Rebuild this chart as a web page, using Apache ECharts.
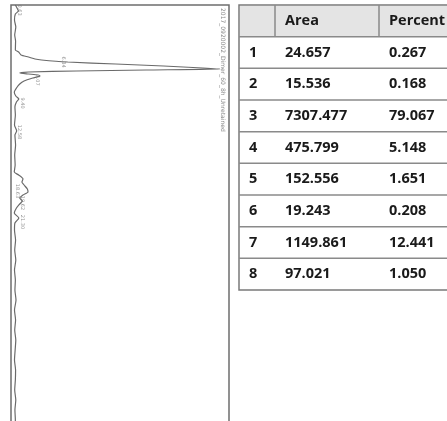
<!DOCTYPE html>
<html>
<head>
<meta charset="utf-8">
<script src="https://cdn.jsdelivr.net/npm/echarts@6/dist/echarts.min.js"></script>
<style>
  html, body { margin: 0; padding: 0; background: #fff; }
  #chart { width: 447px; height: 421px; }
</style>
</head>
<body>
<div id="chart"></div>
<script>
// chromatogram (drawn rotated: time runs down, signal runs right)
const traceTime = [0, 0.4, 0.6, 0.9, 1.5, 2.2, 3.0, 3.6, 4.5, 4.7, 5.0, 5.2, 5.4, 5.5, 5.7, 5.9, 6.1, 6.3, 6.4,
  6.5, 6.6, 6.7, 6.8, 6.9, 7.0, 7.1, 7.3, 7.6, 7.9, 8.3, 8.7, 9.1, 9.4, 9.7, 10.2, 11, 12, 12.6, 13.0, 14, 15, 16,
  16.7, 17.0, 17.4, 17.7, 18.0, 18.4, 18.7, 19.0, 19.3, 19.6, 19.9, 20.3, 20.8, 21.3, 21.8, 22.5, 23.5, 24.5, 25.5,
  26.5, 27.5, 28.5, 29.5, 30.5, 31.5, 32.5, 33.5, 34.5, 35.5, 36.5, 37.5, 38.5, 39.5, 40.5, 41.5, 42.5];
const traceSignal = [2.0, 3.0, 3.4, 2.0, 1.6, 2.2, 1.7, 2.1, 2.0, 3.5, 4.6, 8, 11, 14, 26, 48, 70, 88, 96,
  62, 30, 8, 4, 8, 12.5, 13.3, 10, 6, 4, 2.5, 1.5, 2.2, 3.6, 2.5, 1.8, 2.0, 1.6, 2.6, 1.8, 2.1, 1.7, 1.9,
  1.5, 3.5, 5.5, 5.0, 6.0, 7.5, 7.8, 5.5, 4.0, 5.2, 4.0, 2.5, 1.5, 3.6, 1.8, 1.6, 2.1, 1.7, 2.2, 1.6,
  2.0, 1.8, 2.3, 1.6, 2.1, 1.7, 2.2, 1.9, 1.6, 2.1, 2.0, 1.7, 2.2, 1.8, 2.0, 1.9];

// retention-time labels next to peaks
const labelTime = [0.5, 5.7, 7.5, 9.8, 12.7, 18.6, 19.8, 21.7];
const labelSignal = [4, 24, 12, 5, 4, 3, 5, 5];
const labelText = ['0.63', '6.34', '7.07', '9.40', '12.58', '18.63', '19.62', '21.30'];
const sampleName = '2017_0920002_Dimer_60_8h_Unretained';

// table
const headers = ['', 'Area', 'Percent'];
const peakNo = ['1', '2', '3', '4', '5', '6', '7', '8'];
const areas = ['24.657', '15.536', '7307.477', '475.799', '152.556', '19.243', '1149.861', '97.021'];
const percents = ['0.267', '0.168', '79.067', '5.148', '1.651', '0.208', '12.441', '1.050'];

const colEdges = [0, 36, 140];
const tableWidth = 240;

const chart = echarts.init(document.getElementById('chart'));

const trace = traceTime.map((t, i) => [traceSignal[i], t]);
const labels = labelTime.map((t, i) => [labelSignal[i], t, labelText[i]]);

const rows = [headers].concat(peakNo.map((p, i) => [p, areas[i], percents[i]]));
const cells = [];
rows.forEach((r, ri) => r.forEach((txt, ci) => cells.push([ci, ri, txt])));
const rowIdx = rows.map((r, i) => [0, i]);

const textFont = '"Open Sans", sans-serif';

chart.setOption({
  animation: false,
  grid: [
    { left: 11, top: 5, width: 218, height: 430, show: true, borderColor: '#6e6e6e', borderWidth: 1.5, outerBoundsMode: 'none' },
    { left: 239, top: 5, width: tableWidth, height: 285, show: true, borderColor: '#7a7a7a', borderWidth: 1.5, outerBoundsMode: 'none' }
  ],
  xAxis: [
    { gridIndex: 0, type: 'value', min: 0, max: 100, show: false },
    { gridIndex: 1, type: 'value', min: 0, max: tableWidth, show: false }
  ],
  yAxis: [
    { gridIndex: 0, type: 'value', min: 0, max: 43, inverse: true, show: false },
    { gridIndex: 1, type: 'category', data: rows.map((r, i) => i), inverse: true, show: false }
  ],
  graphic: [{
    type: 'text',
    x: 226, y: 8,
    rotation: -Math.PI / 2,
    style: { text: sampleName, fill: '#8a8a8a', font: '6px "DejaVu Sans", sans-serif' }
  }],
  series: [
    {
      type: 'line',
      xAxisIndex: 0, yAxisIndex: 0,
      data: trace,
      showSymbol: false,
      smooth: 0.2,
      lineStyle: { color: '#6a6a6a', width: 1.2 }
    },
    {
      type: 'scatter',
      xAxisIndex: 0, yAxisIndex: 0,
      data: labels,
      symbolSize: 0,
      label: {
        show: true,
        formatter: p => p.data[2],
        rotate: -90,
        fontSize: 5,
        color: '#777',
        fontFamily: 'DejaVu Sans'
      }
    },
    {
      type: 'custom',
      xAxisIndex: 1, yAxisIndex: 1,
      data: rowIdx,
      z: 1,
      renderItem: function (params, api) {
        const row = api.value(1);
        const c = api.coord([0, row]);
        const right = api.coord([tableWidth, row])[0];
        const h = api.size([0, 1])[1];
        const top = c[1] - h / 2;
        const bottom = c[1] + h / 2;
        const children = [];
        if (row === 0) {
          children.push({
            type: 'rect',
            shape: { x: c[0] + 1, y: top + 1, width: right - c[0], height: h - 1 },
            style: { fill: '#e4e4e4' }
          });
          colEdges.slice(1).forEach(e => {
            const x = api.coord([e, row])[0];
            children.push({
              type: 'line',
              shape: { x1: x, y1: top, x2: x, y2: bottom },
              style: { stroke: '#8a8a8a', lineWidth: 1.5 }
            });
          });
        }
        if (row < rows.length - 1) {
          children.push({
            type: 'line',
            shape: { x1: c[0], y1: bottom, x2: right, y2: bottom },
            style: { stroke: '#8a8a8a', lineWidth: 1.5 }
          });
        }
        return { type: 'group', children };
      }
    },
    {
      type: 'custom',
      xAxisIndex: 1, yAxisIndex: 1,
      data: cells,
      z: 2,
      renderItem: function (params, api) {
        const col = api.value(0);
        const row = api.value(1);
        const p = api.coord([colEdges[col], row]);
        return {
          type: 'text',
          x: p[0] + 10,
          y: p[1],
          style: {
            text: cells[params.dataIndex][2],
            fill: '#1a1a1a',
            font: 'bold 14.5px ' + textFont,
            verticalAlign: 'middle'
          }
        };
      }
    }
  ]
});
</script>
</body>
</html>
